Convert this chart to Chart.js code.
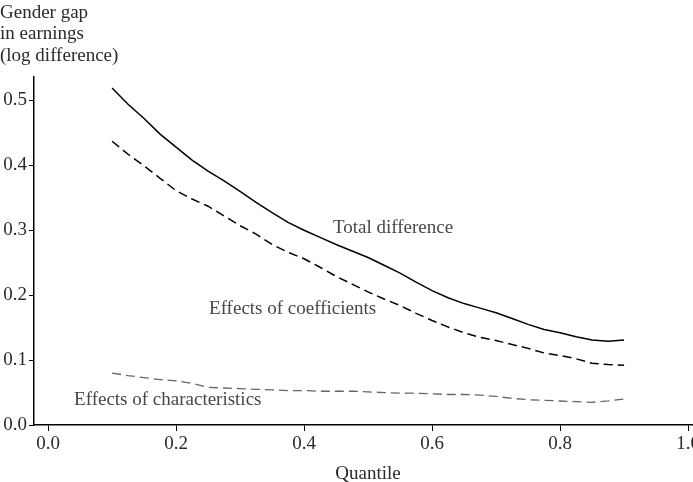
<!DOCTYPE html>
<html>
<head>
<meta charset="utf-8">
<script src="https://cdn.jsdelivr.net/npm/chart.js@4.4.1/dist/chart.umd.min.js"></script>
<style>
  body { margin: 0; background: #fff; }
  #wrap { width: 693px; height: 482px; overflow: hidden; position: relative; }
</style>
</head>
<body>
<div id="wrap"><canvas id="gapChart" width="720" height="482"></canvas></div>
<script>
// Quantiles along the x axis
const quantiles = [0.100, 0.125, 0.150, 0.175, 0.200, 0.225, 0.250, 0.275, 0.300, 0.325, 0.350,
                   0.375, 0.400, 0.425, 0.450, 0.475, 0.500, 0.525, 0.550, 0.575, 0.600, 0.625,
                   0.650, 0.675, 0.700, 0.725, 0.750, 0.775, 0.800, 0.825, 0.850, 0.875, 0.900];

// Total difference (solid line)
const totalDiff = [0.519, 0.494, 0.472, 0.448, 0.428, 0.408, 0.391, 0.376, 0.360, 0.343, 0.327,
                   0.312, 0.300, 0.289, 0.278, 0.268, 0.258, 0.246, 0.234, 0.220, 0.207, 0.196,
                   0.187, 0.180, 0.173, 0.164, 0.155, 0.147, 0.142, 0.136, 0.131, 0.129, 0.131];

// Effects of coefficients (black dashed)
const coefEffect = [0.437, 0.417, 0.399, 0.380, 0.361, 0.348, 0.337, 0.322, 0.307, 0.294, 0.278,
                    0.266, 0.256, 0.243, 0.229, 0.217, 0.205, 0.194, 0.184, 0.172, 0.161, 0.151,
                    0.142, 0.135, 0.130, 0.124, 0.118, 0.111, 0.107, 0.102, 0.095, 0.093, 0.092];

// Effects of characteristics (grey dashed)
const charEffect = [0.080, 0.076, 0.073, 0.070, 0.068, 0.064, 0.058, 0.057, 0.056, 0.055, 0.054,
                    0.053, 0.053, 0.052, 0.052, 0.052, 0.051, 0.050, 0.049, 0.049, 0.048, 0.047,
                    0.047, 0.046, 0.044, 0.041, 0.039, 0.038, 0.037, 0.036, 0.035, 0.037, 0.040];

const xTicks = [0, 0.2, 0.4, 0.6, 0.8, 1.0];
const yTicks = [0, 0.1, 0.2, 0.3, 0.4, 0.5];

const yTitle = ['Gender gap', 'in earnings', '(log difference)'];
const xTitle = 'Quantile';

// Line labels written inside the plot, anchored in data units
const lineLabels = [
    { text: 'Total difference', x: 0.539, y: 0.304 },
    { text: 'Effects of coefficients', x: 0.382, y: 0.179 },
    { text: 'Effects of characteristics', x: 0.187, y: 0.039 }
];

const FONT = '"Liberation Serif", "Times New Roman", serif';

function toPoints(values) {
    return quantiles.map((q, i) => ({ x: q, y: values[i] }));
}

// Draws the axis titles and the in-plot labels
const textPlugin = {
    id: 'textPlugin',
    afterDraw(chart) {
        const ctx = chart.ctx;
        const xs = chart.scales.x;
        const ys = chart.scales.y;
        ctx.save();
        ctx.font = '19px ' + FONT;
        ctx.textBaseline = 'middle';

        ctx.fillStyle = '#2a2a2a';
        ctx.textAlign = 'left';
        yTitle.forEach((line, i) => ctx.fillText(line, 0, 13 + i * 21.5));

        ctx.textAlign = 'center';
        ctx.fillText(xTitle, xs.getPixelForValue(0.5), 474);

        ctx.fillStyle = '#474747';
        lineLabels.forEach(l => {
            ctx.fillText(l.text, xs.getPixelForValue(l.x), ys.getPixelForValue(l.y));
        });
        ctx.restore();
    }
};

const config = {
    type: 'line',
    data: {
        datasets: [
            {
                label: 'Total difference',
                data: toPoints(totalDiff),
                borderColor: '#000',
                borderWidth: 1.5
            },
            {
                label: 'Effects of coefficients',
                data: toPoints(coefEffect),
                borderColor: '#000',
                borderWidth: 1.5,
                borderDash: [9, 5]
            },
            {
                label: 'Effects of characteristics',
                data: toPoints(charEffect),
                borderColor: '#666',
                borderWidth: 1.3,
                borderDash: [9, 5]
            }
        ]
    },
    options: {
        responsive: false,
        animation: false,
        layout: { padding: { top: 77, left: 0, right: 0, bottom: 0 } },
        elements: { point: { radius: 0 }, line: { tension: 0 } },
        plugins: { legend: { display: false }, tooltip: { enabled: false } },
        scales: {
            x: {
                type: 'linear',
                min: -0.022,
                max: 1.0499,
                afterBuildTicks: scale => { scale.ticks = xTicks.map(v => ({ value: v })); },
                afterFit: scale => { scale.height = 57; },
                border: { display: true, color: '#000', width: 1.5 },
                grid: { drawOnChartArea: false, drawTicks: true, tickLength: 6, color: '#000' },
                ticks: {
                    color: '#2a2a2a',
                    padding: 2,
                    maxRotation: 0,
                    autoSkip: false,
                    font: { family: FONT, size: 19 },
                    callback: v => v.toFixed(1)
                }
            },
            y: {
                min: 0,
                max: 0.536,
                afterBuildTicks: scale => { scale.ticks = yTicks.map(v => ({ value: v })); },
                afterFit: scale => { scale.width = 34; },
                border: { display: true, color: '#000', width: 1.5 },
                grid: { drawOnChartArea: false, drawTicks: true, tickLength: 5, color: '#000' },
                ticks: {
                    color: '#2a2a2a',
                    padding: 2,
                    font: { family: FONT, size: 19 },
                    callback: v => v.toFixed(1)
                }
            }
        }
    },
    plugins: [textPlugin]
};

new Chart(document.getElementById('gapChart'), config);
</script>
</body>
</html>
